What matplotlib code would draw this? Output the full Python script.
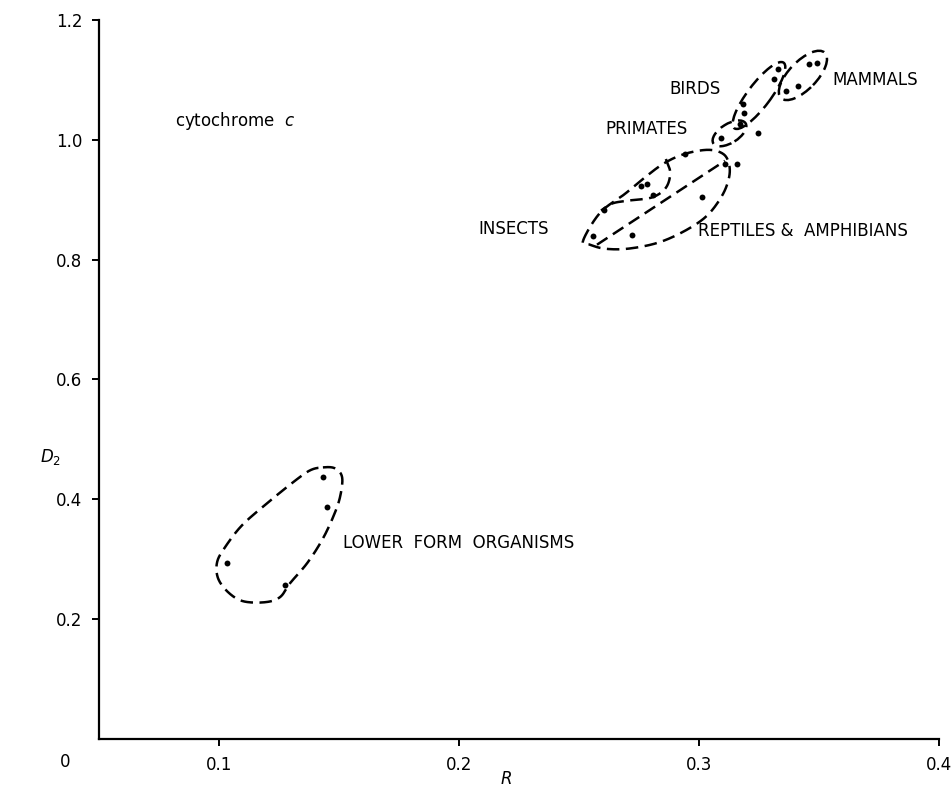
import numpy as np
import matplotlib
matplotlib.use("Agg")
import matplotlib.pyplot as plt
from matplotlib.patches import Ellipse
from matplotlib.transforms import ScaledTranslation

plt.rcParams['font.family'] = ['DejaVu Sans']
plt.rcParams['mathtext.fontset'] = 'dejavusans'

# R and D2 values for cytochrome c, grouped by taxon
mammals_r = [0.3458, 0.3492, 0.3413, 0.3363]
mammals_d = [1.127, 1.128, 1.090, 1.082]
birds_r = [0.3329, 0.3313, 0.3183, 0.3188, 0.3171]
birds_d = [1.118, 1.102, 1.060, 1.045, 1.027]
primates_r = [0.3092]
primates_d = [1.003]
other_r = [0.3246, 0.3158]
other_d = [1.012, 0.960]
insects_r = [0.2604, 0.2558, 0.2758, 0.2783, 0.2808, 0.2942, 0.3108]
insects_d = [0.883, 0.840, 0.923, 0.927, 0.908, 0.977, 0.960]
reptiles_r = [0.2721, 0.3013]
reptiles_d = [0.841, 0.905]
lower_r = [0.1433, 0.1450, 0.1033, 0.1275]
lower_d = [0.437, 0.387, 0.294, 0.257]

x_ticks = [0.1, 0.2, 0.3, 0.4]
x_tick_labels = ['0.1', '0.2', '0.3', '0.4']
y_ticks = [0.2, 0.4, 0.6, 0.8, 1.0, 1.2]
y_tick_labels = ['0.2', '0.4', '0.6', '0.8', '1.0', '1.2']

# group outlines (R, D2) traced around the clusters
lower_outline = [(0.1433, 0.4533), (0.1483, 0.4517), (0.1513, 0.4367), (0.1504, 0.4033),
                 (0.1475, 0.370), (0.1429, 0.3317), (0.1367, 0.2933), (0.1296, 0.260),
                 (0.1254, 0.2367), (0.1192, 0.2283), (0.110, 0.230), (0.1038, 0.245),
                 (0.0996, 0.2683), (0.0992, 0.295), (0.1025, 0.320), (0.1096, 0.3567),
                 (0.120, 0.3933), (0.1308, 0.4283), (0.1379, 0.4483)]
cold_outline = [(0.2517, 0.8317), (0.2588, 0.8783), (0.2692, 0.910), (0.2783, 0.940),
                (0.2858, 0.9617), (0.2942, 0.9767), (0.3038, 0.9833), (0.3100, 0.9767),
                (0.3125, 0.960), (0.3125, 0.9367), (0.3096, 0.9067), (0.3033, 0.8733),
                (0.2942, 0.8483), (0.2829, 0.8283), (0.2704, 0.8183), (0.2608, 0.8183),
                (0.2546, 0.8250)]
divider_line = [(0.2575, 0.825), (0.3108, 0.965)]
inner_arc = [(0.2862, 0.968), (0.2880, 0.945), (0.2862, 0.920), (0.2805, 0.904),
             (0.2715, 0.899), (0.2640, 0.894), (0.2592, 0.882)]
# ellipses: centre (R, D2), width and height in inches, angle in degrees
ellipses = [((0.3433, 1.1075), 0.63, 0.28, 46),
            ((0.3250, 1.0740), 0.82, 0.23, 53),
            ((0.3127, 1.0108), 0.38, 0.19, 32)]

labels = [(0.0817, 1.032, 'cytochrome  $\\mathit{c}$'),
          (0.3554, 1.100, 'MAMMALS'),
          (0.2875, 1.085, 'BIRDS'),
          (0.2608, 1.0175, 'PRIMATES'),
          (0.2080, 0.852, 'INSECTS'),
          (0.2996, 0.848, 'REPTILES &  AMPHIBIANS'),
          (0.1517, 0.327, 'LOWER  FORM  ORGANISMS')]


def catmull_rom(pts, closed=True, n=24):
    p = np.asarray(pts, dtype=float)
    if closed:
        p = np.vstack([p[-1], p, p[0], p[1]])
    else:
        p = np.vstack([2 * p[0] - p[1], p, 2 * p[-1] - p[-2]])
    out = []
    for i in range(1, len(p) - 2):
        p0, p1, p2, p3 = p[i - 1], p[i], p[i + 1], p[i + 2]
        t = np.linspace(0, 1, n, endpoint=False)[:, None]
        seg = 0.5 * ((2 * p1) + (-p0 + p2) * t + (2 * p0 - 5 * p1 + 4 * p2 - p3) * t ** 2
                     + (-p0 + 3 * p1 - 3 * p2 + p3) * t ** 3)
        out.append(seg)
    out.append(p[-2][None, :])
    return np.vstack(out)


fig = plt.figure(figsize=(9.51, 7.88), dpi=100)
ax = fig.add_axes([99 / 951, 49 / 788, 840 / 951, 719 / 788])
ax.set_xlim(0.05, 0.4)
ax.set_ylim(0.0, 1.2)

for s in ['top', 'right']:
    ax.spines[s].set_visible(False)
for s in ['left', 'bottom']:
    ax.spines[s].set_linewidth(1.6)
    ax.spines[s].set_color('black')

ax.set_xticks(x_ticks)
ax.set_xticklabels(x_tick_labels)
ax.set_yticks(y_ticks)
ax.set_yticklabels(y_tick_labels)
ax.tick_params(direction='out', length=5, width=1.4, labelsize=12, pad=7, colors='black')

dash = (0, (5, 2.6))
lw = 1.8

groups = [(mammals_r, mammals_d), (birds_r, birds_d), (primates_r, primates_d),
          (other_r, other_d), (insects_r, insects_d), (reptiles_r, reptiles_d),
          (lower_r, lower_d)]
for r, d in groups:
    ax.scatter(r, d, s=18, color='black', zorder=3, linewidths=0)

for pts, closed in [(lower_outline, True), (cold_outline, True), (inner_arc, False)]:
    c = catmull_rom(pts, closed=closed)
    ax.plot(c[:, 0], c[:, 1], color='black', lw=lw, ls=dash)

ax.plot([p[0] for p in divider_line], [p[1] for p in divider_line],
        color='black', lw=lw, ls=dash)

for (cx, cy), w, h, ang in ellipses:
    trans = fig.dpi_scale_trans + ScaledTranslation(cx, cy, ax.transData)
    e = Ellipse((0, 0), w, h, angle=ang, transform=trans, fill=False,
                ec='black', lw=lw, ls=dash)
    ax.add_patch(e)

for x, y, t in labels:
    ax.text(x, y, t, fontsize=12, ha='left', va='center', color='black')

ax.text(0.0358, -0.038, '0', fontsize=12, ha='center', va='center', clip_on=False)
ax.text(0.2196, -0.066, '$\\mathit{R}$', fontsize=12, ha='center', va='center', clip_on=False)
ax.text(0.0300, 0.47, '$\\mathit{D}_{\\mathit{2}}$', fontsize=12, ha='center', va='center',
        clip_on=False)

fig.savefig('out.png', dpi=100)
